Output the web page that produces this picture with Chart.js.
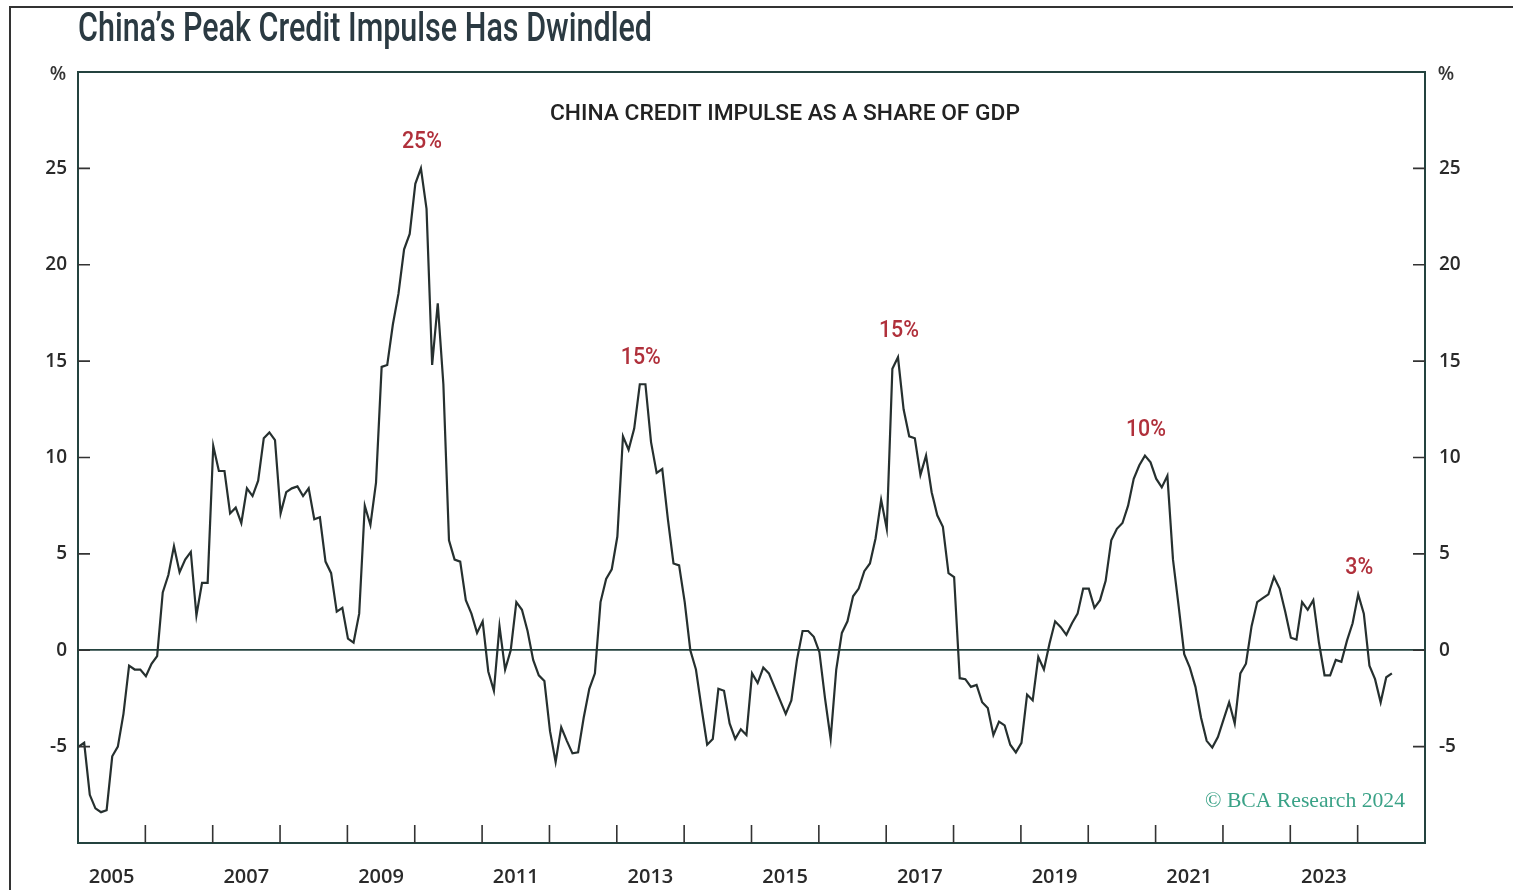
<!DOCTYPE html>
<html>
<head>
<meta charset="utf-8">
<title>China's Peak Credit Impulse Has Dwindled</title>
<script src="https://cdn.jsdelivr.net/npm/chart.js@4.4.1/dist/chart.umd.min.js"></script>
<style>
  html, body { margin: 0; padding: 0; background: #fff; }
  #wrap { position: relative; width: 1513px; height: 890px; }
</style>
</head>
<body>
<div id="wrap"><canvas id="impulseChart"></canvas></div>
<script>
// monthly credit impulse, % of GDP, Jan of each year onwards
const y2005 = [-5.0, -4.8, -7.5, -8.2, -8.4, -8.3, -5.5, -5.0, -3.3, -0.8, -1.0, -1.0];
const y2006 = [-1.35, -0.7, -0.3, 3.0, 3.9, 5.4, 4.05, 4.7, 5.1, 1.8, 3.5, 3.5];
const y2007 = [10.6, 9.3, 9.3, 7.1, 7.4, 6.6, 8.4, 8.0, 8.8, 11.0, 11.3, 10.9];
const y2008 = [7.1, 8.2, 8.4, 8.5, 8.0, 8.4, 6.8, 6.9, 4.6, 4.0, 2.0, 2.2];
const y2009 = [0.6, 0.4, 1.9, 7.5, 6.5, 8.7, 14.7, 14.8, 16.9, 18.5, 20.8, 21.6];
const y2010 = [24.2, 25.0, 22.9, 14.8, 18.0, 13.8, 5.7, 4.7, 4.6, 2.6, 1.9, 0.9];
const y2011 = [1.5, -1.1, -2.1, 1.25, -1.0, 0.0, 2.5, 2.1, 1.0, -0.5, -1.3, -1.6];
const y2012 = [-4.2, -5.8, -4.0, -4.7, -5.35, -5.3, -3.5, -2.0, -1.2, 2.5, 3.7, 4.2];
const y2013 = [5.9, 11.1, 10.4, 11.5, 13.8, 13.8, 10.8, 9.2, 9.4, 6.8, 4.5, 4.4];
const y2014 = [2.5, 0.0, -1.0, -3.0, -4.9, -4.6, -2.0, -2.1, -3.8, -4.6, -4.1, -4.4];
const y2015 = [-1.2, -1.7, -0.9, -1.2, -1.9, -2.6, -3.3, -2.6, -0.5, 1.0, 1.0, 0.7];
const y2016 = [-0.1, -2.5, -4.6, -1.0, 0.9, 1.5, 2.8, 3.2, 4.1, 4.5, 5.8, 7.8];
const y2017 = [6.3, 14.6, 15.2, 12.5, 11.1, 11.0, 9.1, 10.1, 8.2, 7.0, 6.4, 4.0];
const y2018 = [3.8, -1.45, -1.5, -1.9, -1.8, -2.7, -3.0, -4.4, -3.7, -3.9, -4.9, -5.3];
const y2019 = [-4.8, -2.3, -2.6, -0.35, -1.0, 0.35, 1.5, 1.2, 0.8, 1.4, 1.9, 3.2];
const y2020 = [3.2, 2.2, 2.6, 3.6, 5.7, 6.3, 6.6, 7.5, 8.9, 9.6, 10.1, 9.75];
const y2021 = [8.9, 8.45, 9.05, 4.7, 2.3, -0.2, -0.9, -1.9, -3.5, -4.7, -5.05, -4.5];
const y2022 = [-3.6, -2.7, -3.8, -1.2, -0.7, 1.25, 2.5, 2.7, 2.9, 3.8, 3.2, 2.0];
const y2023 = [0.65, 0.55, 2.5, 2.1, 2.6, 0.4, -1.3, -1.3, -0.5, -0.6, 0.5, 1.4];
const y2024 = [2.9, 1.9, -0.8, -1.5, -2.7, -1.4, -1.2];

const START_YEAR = 2005;
const yearTicks = [-5, 0, 5, 10, 15, 20, 25];
const peakMonths = [61, 100, 146, 190, 228];
const peakLabels = ['25%', '15%', '15%', '10%', '3%'];

const TITLE = 'China\u2019s Peak Credit Impulse Has Dwindled';
const SUBTITLE = 'CHINA CREDIT IMPULSE AS A SHARE OF GDP';
const SOURCE = '\u00A9 BCA Research 2024';

const INK = '#26302f';
const FRAME = '#24433f';
const RED = '#b0303b';

const impulse = [].concat(y2005, y2006, y2007, y2008, y2009, y2010, y2011, y2012, y2013, y2014,
    y2015, y2016, y2017, y2018, y2019, y2020, y2021, y2022, y2023, y2024);
const points = impulse.map((v, i) => ({ x: START_YEAR + (i + 0.1) / 12, y: v }));

function fitText(ctx, text, x, y, width, align) {
    const w = ctx.measureText(text).width;
    const k = width / w;
    ctx.save();
    ctx.translate(x, y);
    ctx.scale(k, 1);
    const off = align === 'center' ? -w / 2 : align === 'right' ? -w : 0;
    ctx.textAlign = 'left';
    ctx.fillText(text, off, 0);
    ctx.restore();
}

const decor = {
    id: 'decor',
    beforeDraw(chart) {
        const ctx = chart.ctx;
        ctx.save();
        // outer frame
        ctx.strokeStyle = '#333';
        ctx.lineWidth = 2;
        ctx.beginPath();
        ctx.moveTo(10, 890);
        ctx.lineTo(10, 7);
        ctx.lineTo(1513, 7);
        ctx.stroke();
        // title
        ctx.fillStyle = '#2b3a42';
        ctx.textBaseline = 'alphabetic';
        ctx.font = '500 40px Roboto';
        fitText(ctx, TITLE, 78, 41, 574, 'left');
        ctx.fillStyle = '#222';
        ctx.font = '500 22px Roboto';
        fitText(ctx, SUBTITLE, 785, 120, 470, 'center');
        ctx.restore();
    },
    afterDraw(chart) {
        const ctx = chart.ctx;
        const a = chart.chartArea;
        const xs = chart.scales.x;
        const ys = chart.scales.y;
        ctx.save();
        ctx.strokeStyle = FRAME;
        ctx.lineWidth = 2;
        ctx.strokeRect(a.left, a.top, a.right - a.left, a.bottom - a.top);
        // inward tick marks
        ctx.lineWidth = 1.6;
        ctx.strokeStyle = '#333';
        ctx.beginPath();
        for (let yr = START_YEAR + 1; yr < 2025; yr++) {
            const px = xs.getPixelForValue(yr);
            ctx.moveTo(px, a.bottom);
            ctx.lineTo(px, a.bottom - 18);
        }
        yearTicks.forEach(v => {
            const py = ys.getPixelForValue(v);
            ctx.moveTo(a.left, py);
            ctx.lineTo(a.left + 12, py);
            ctx.moveTo(a.right, py);
            ctx.lineTo(a.right - 12, py);
        });
        ctx.stroke();
        // % unit labels
        ctx.fillStyle = '#333';
        ctx.font = '600 19px "Open Sans"';
        ctx.textAlign = 'center';
        ctx.textBaseline = 'middle';
        ctx.fillText('%', 58, 75);
        ctx.fillText('%', 1446, 75);
        // peak labels
        ctx.fillStyle = RED;
        ctx.font = '500 23px Roboto';
        ctx.textBaseline = 'alphabetic';
        peakMonths.forEach((m, i) => {
            const px = xs.getPixelForValue(points[m].x);
            const py = ys.getPixelForValue(points[m].y);
            fitText(ctx, peakLabels[i], px + 1, py - 20, ctx.measureText(peakLabels[i]).width * 0.93, 'center');
        });
        // source
        ctx.fillStyle = '#3aa287';
        ctx.font = '22px "Liberation Serif"';
        fitText(ctx, SOURCE, 1405, 807, 200, 'right');
        ctx.restore();
    }
};

const xFont = { family: '"Open Sans"', size: 20, weight: '600' };
const yFont = { family: '"Open Sans"', size: 19, weight: '600' };

new Chart(document.getElementById('impulseChart'), {
    type: 'line',
    data: {
        datasets: [{
            label: 'China credit impulse',
            data: points,
            borderColor: INK,
            borderWidth: 2.2,
            pointRadius: 0,
            tension: 0,
            fill: false,
            yAxisID: 'y'
        }]
    },
    options: {
        responsive: true,
        maintainAspectRatio: false,
        animation: false,
        layout: { padding: { top: 72, left: 0, right: 0, bottom: 0 } },
        plugins: { legend: { display: false }, tooltip: { enabled: false } },
        scales: {
            x: {
                type: 'linear',
                min: 2005,
                max: 2025,
                grid: { drawOnChartArea: false, drawTicks: false },
                border: { display: true, color: FRAME, width: 2 },
                ticks: {
                    stepSize: 1,
                    maxTicksLimit: 30,
                    autoSkip: false,
                    maxRotation: 0,
                    padding: 22,
                    labelOffset: 33.6,
                    color: '#2a2a2a',
                    font: xFont,
                    callback: v => (v % 2 === 1 && v < 2025) ? String(v) : ''
                },
                afterFit: s => { s.height = 47; }
            },
            y: {
                position: 'left',
                min: -10,
                max: 30,
                grid: {
                    drawTicks: false,
                    color: c => c.tick && c.tick.value === 0 ? FRAME : 'rgba(0,0,0,0)',
                    lineWidth: 1.8
                },
                border: { display: true, color: FRAME, width: 2 },
                ticks: {
                    stepSize: 5,
                    padding: 11,
                    color: '#2a2a2a',
                    font: yFont,
                    callback: v => (v > -10 && v < 30) ? String(v) : ''
                },
                afterFit: s => { s.width = 78; }
            },
            y2: {
                position: 'right',
                min: -10,
                max: 30,
                grid: { display: false, drawTicks: false },
                border: { display: true, color: FRAME, width: 2 },
                ticks: {
                    stepSize: 5,
                    padding: 14,
                    color: '#2a2a2a',
                    font: yFont,
                    callback: v => (v > -10 && v < 30) ? String(v) : ''
                },
                afterFit: s => { s.width = 88; }
            }
        }
    },
    plugins: [decor]
});
</script>
</body>
</html>
